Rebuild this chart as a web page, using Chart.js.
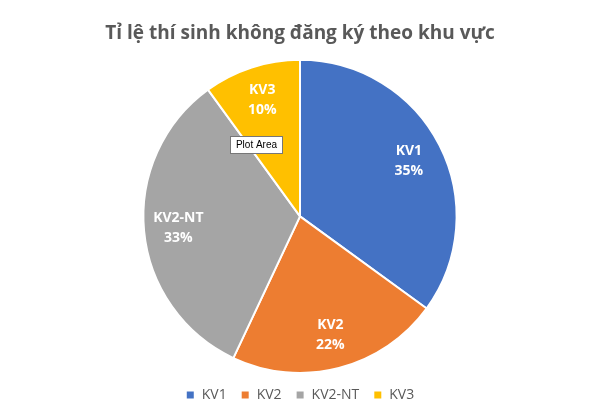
<!DOCTYPE html>
<html>
<head>
<meta charset="utf-8">
<script src="https://cdn.jsdelivr.net/npm/chart.js@4"></script>
<style>
  body { margin: 0; background: #fff; }
  #wrap { width: 600px; height: 412px; position: relative; }
</style>
</head>
<body>
<div id="wrap"><canvas id="pieChart"></canvas></div>
<script>
const categories = ["KV1", "KV2", "KV2-NT", "KV3"];
const percentValues = [35, 22, 33, 10];
const sliceColors = ["#4472C4", "#ED7D31", "#A5A5A5", "#FFC000"];

// draws "KV1 / 35%" inside each slice
const sliceLabels = {
    id: "sliceLabels",
    afterDatasetsDraw(chart) {
        const ctx = chart.ctx;
        const meta = chart.getDatasetMeta(0);
        ctx.save();
        ctx.fillStyle = "#fff";
        ctx.font = "bold 14px 'Open Sans', sans-serif";
        ctx.textAlign = "center";
        ctx.textBaseline = "middle";
        meta.data.forEach(function (arc, i) {
            const mid = (arc.startAngle + arc.endAngle) / 2;
            const r = arc.outerRadius * 0.78;
            const x = arc.x + Math.cos(mid) * r;
            const y = arc.y + Math.sin(mid) * r;
            ctx.fillText(categories[i], x, y - 10);
            ctx.fillText(percentValues[i] + "%", x, y + 10);
        });
        // Excel "Plot Area" hint box
        ctx.font = "10px 'Liberation Sans', sans-serif";
        ctx.fillStyle = "#fff";
        ctx.strokeStyle = "#777";
        ctx.lineWidth = 1;
        ctx.fillRect(230.5, 136.5, 52, 17);
        ctx.strokeRect(230.5, 136.5, 52, 17);
        ctx.fillStyle = "#000";
        ctx.fillText("Plot Area", 256.5, 145);
        ctx.restore();
    }
};

new Chart(document.getElementById("pieChart").getContext("2d"), {
    type: "pie",
    data: {
        labels: categories,
        datasets: [{
            data: percentValues,
            backgroundColor: sliceColors,
            borderColor: "#fff",
            borderWidth: 2
        }]
    },
    options: {
        responsive: true,
        maintainAspectRatio: false,
        animation: false,
        layout: { padding: { top: 0, bottom: 0 } },
        plugins: {
            title: {
                display: true,
                text: "Tỉ lệ thí sinh không đăng ký theo khu vực",
                color: "#595959",
                font: { size: 19, weight: "bold", family: "'Open Sans', sans-serif" },
                padding: { top: 22, bottom: 14 }
            },
            legend: {
                position: "bottom",
                labels: {
                    boxWidth: 9,
                    boxHeight: 9,
                    color: "#595959",
                    font: { size: 14, family: "'Open Sans', sans-serif" },
                    padding: 14
                }
            },
            tooltip: { enabled: false }
        }
    },
    plugins: [sliceLabels]
});
</script>
</body>
</html>
